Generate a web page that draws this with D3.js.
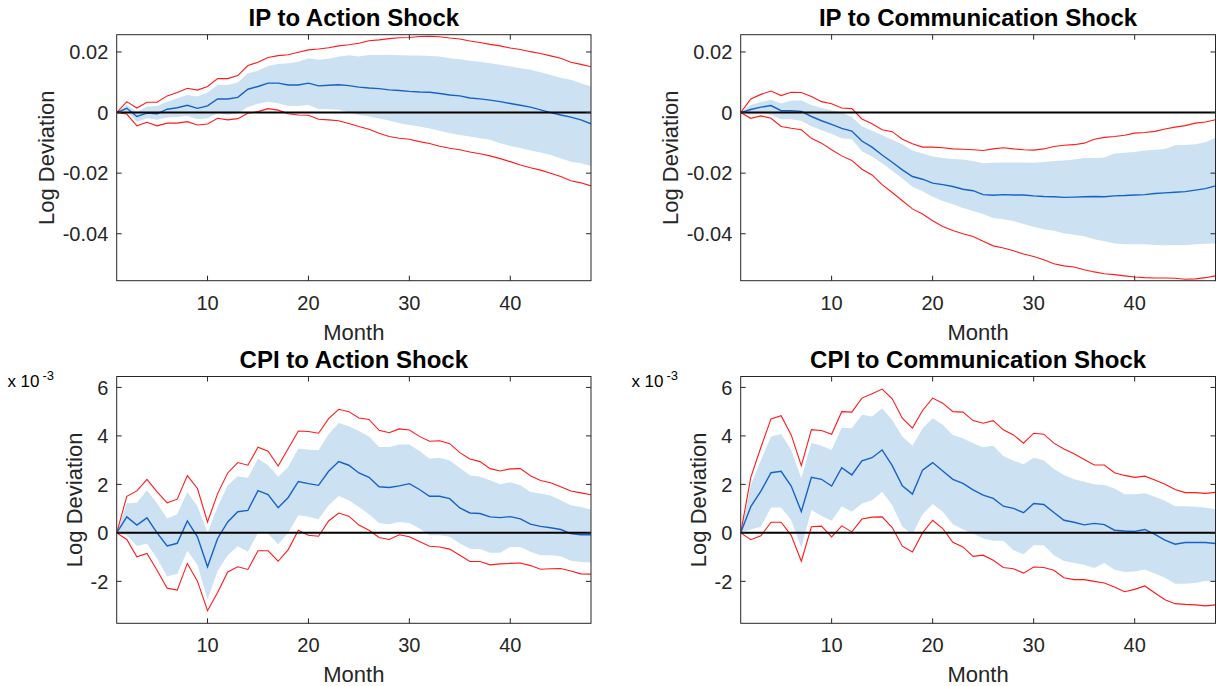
<!DOCTYPE html>
<html>
<head>
<meta charset="utf-8">
<script src="https://cdn.jsdelivr.net/npm/d3@7"></script>
<style>
  html, body { margin: 0; padding: 0; background: #ffffff; }
  svg { display: block; font-family: "Liberation Sans", Arial, Helvetica, sans-serif; }
</style>
</head>
<body>
<svg id="chart" width="1218" height="686"></svg>
<script>
// Impulse responses: median, 68% band (shaded) and 90% band (red lines), months 1..48.
const months = d3.range(1, 49);

// IP response to the action shock (log deviation)
const ipActionMedian = [0,.0014,-.0013,-.0002,-.0004,.0011,.0016,.0024,.0014,.0022,
  .0045,.0045,.005,.0077,.0086,.0097,.0097,.0091,.0091,.0097,
  .0088,.009,.0092,.0089,.0084,.0081,.0079,.0075,.0073,.007,
  .0068,.0067,.0063,.0058,.0055,.0048,.0045,.0041,.0036,.003,
  .0024,.0018,.0009,0,-.0008,-.0015,-.0024,-.0037];
const ipActionUpper90 = [0,.0036,.0015,.0034,.0034,.0055,.0066,.008,.0074,.0086,
  .0112,.0112,.0122,.0155,.0166,.0182,.0188,.0191,.0199,.0207,
  .021,.0214,.022,.0224,.0229,.0237,.024,.0244,.0247,.0248,
  .0251,.0252,.025,.0246,.0243,.0236,.0231,.0225,.022,.0213,
  .0208,.0201,.0195,.0187,.0179,.0166,.0159,.0151];
const ipActionLower90 = [0,-.0005,-.0044,-.0032,-.0044,-.0035,-.0035,-.003,-.0041,-.0038,
  -.0019,-.0024,-.002,-.0002,.0003,.0013,.0008,-.0004,-.0008,-.0009,
  -.0022,-.0024,-.0027,-.0036,-.0046,-.0055,-.0068,-.0079,-.0085,-.0088,
  -.0096,-.0102,-.0111,-.0118,-.0123,-.013,-.0136,-.0143,-.0152,-.0162,
  -.0173,-.0182,-.019,-.02,-.0211,-.0225,-.0232,-.0242];
const ipActionUpper68 = [0,.0025,.0003,.002,.0022,.0036,.0047,.0058,.0053,.0066,
  .0091,.0091,.0099,.013,.0138,.0154,.016,.0163,.0168,.0179,
  .0174,.0178,.0185,.0189,.0185,.019,.019,.019,.0189,.0188,
  .0188,.0187,.0185,.0179,.0176,.0171,.0168,.0163,.0158,.0152,
  .0146,.0141,.0133,.0124,.0115,.0108,.0097,.0086];
const ipActionLower68 = [0,.0003,-.003,-.0019,-.0024,-.0016,-.0015,-.0011,-.0022,-.0019,
  -.0002,-.0008,-.0002,.0018,.0029,.0036,.0031,.0022,.0022,.0025,
  .0012,.0011,.0009,0,-.0008,-.0013,-.002,-.0026,-.0035,-.0041,
  -.0046,-.0053,-.006,-.0068,-.0074,-.0079,-.0085,-.009,-.0101,-.011,
  -.0117,-.0125,-.0132,-.014,-.0151,-.0162,-.0167,-.0176];

// IP response to the communication shock (log deviation)
const ipCommMedian = [0,.001,.0018,.0023,.0006,.0006,.0004,-.0013,-.0027,-.0039,
  -.0052,-.0061,-.0094,-.0114,-.014,-.0164,-.0189,-.0211,-.022,-.0233,
  -.0238,-.0244,-.0253,-.0258,-.0271,-.0273,-.0271,-.0272,-.0272,-.0275,
  -.0277,-.0278,-.028,-.0279,-.0278,-.0277,-.0278,-.0275,-.0274,-.0272,
  -.0271,-.0267,-.0265,-.0263,-.0261,-.0256,-.0251,-.0242];
const ipCommUpper90 = [0,.0045,.006,.0071,.0056,.0067,.0066,.0053,.0036,.0029,
  .0015,.0013,-.0021,-.0037,-.0057,-.0063,-.0088,-.0103,-.0114,-.0114,
  -.0116,-.012,-.0121,-.0123,-.0125,-.012,-.0116,-.012,-.0123,-.0124,
  -.012,-.0112,-.0108,-.0106,-.0101,-.0088,-.0082,-.0079,-.0075,-.0068,
  -.0066,-.0062,-.0054,-.0048,-.0043,-.0035,-.0031,-.0024];
const ipCommLower90 = [0,-.0019,-.0011,-.0019,-.0046,-.0052,-.0057,-.0085,-.0101,-.0123,
  -.0143,-.0158,-.0187,-.0206,-.0238,-.0264,-.0291,-.0318,-.0335,-.0357,
  -.0376,-.0389,-.04,-.0409,-.0425,-.044,-.0447,-.0456,-.0467,-.0475,
  -.0486,-.0499,-.0506,-.051,-.0519,-.0526,-.0532,-.0535,-.0539,-.0543,
  -.0545,-.0546,-.0546,-.0547,-.055,-.0549,-.0545,-.0539];
const ipCommUpper68 = [0,.0025,.0035,.0042,.003,.004,.004,.0025,.0015,.0008,
  0,-.0015,-.0045,-.006,-.0075,-.009,-.0105,-.0125,-.0135,-.0145,
  -.015,-.0153,-.0155,-.016,-.0167,-.0166,-.0165,-.0165,-.0165,-.0166,
  -.0163,-.016,-.0158,-.0155,-.015,-.015,-.0148,-.0135,-.0133,-.013,
  -.0125,-.0123,-.012,-.0108,-.0107,-.0105,-.0098,-.0083];
const ipCommLower68 = [0,-.0007,-.0003,-.0007,-.0022,-.0022,-.0027,-.0045,-.0058,-.007,
  -.0085,-.0088,-.0128,-.0145,-.0167,-.0192,-.0218,-.0245,-.026,-.0278,
  -.0292,-.0303,-.0315,-.0325,-.0335,-.0348,-.0352,-.0358,-.0368,-.0377,
  -.0385,-.039,-.0398,-.0403,-.0408,-.0418,-.0425,-.0432,-.0435,-.0435,
  -.0435,-.0437,-.0438,-.0437,-.0438,-.0435,-.0433,-.0432];

// CPI response to the action shock (log deviation, x 10^-3)
const cpiActionMedian = [0,.66,.32,.62,0,-.54,-.43,.49,-.16,-1.4,
  -.23,.45,.87,.93,1.74,1.58,1.04,1.46,2.12,2.03,
  1.96,2.54,2.94,2.79,2.47,2.29,1.9,1.87,1.94,2.03,
  1.79,1.51,1.51,1.41,1.03,.82,.8,.66,.63,.67,
  .58,.36,.27,.21,.14,-.03,-.08,-.08];
const cpiActionUpper90 = [0,1.51,1.73,2.21,1.69,1.24,1.39,2.36,1.83,.45,
  1.62,2.47,2.9,2.79,3.53,3.37,2.76,3.48,4.2,4.18,
  4.11,4.71,5.1,5.0,4.74,4.68,4.23,4.13,4.29,4.24,
  3.98,3.78,3.8,3.68,3.31,3.05,2.94,2.65,2.55,2.64,
  2.65,2.36,2.16,2.07,1.9,1.73,1.65,1.57];
const cpiActionLower90 = [0,-.27,-.99,-.85,-1.54,-2.28,-2.36,-1.26,-1.99,-3.21,
  -2.46,-1.61,-1.4,-1.51,-.74,-.74,-1.17,-.69,.11,-.1,
  -.14,.49,.82,.69,.32,.11,-.19,-.27,-.08,-.16,
  -.36,-.55,-.58,-.67,-.92,-1.18,-1.18,-1.32,-1.28,-1.26,
  -1.24,-1.35,-1.5,-1.48,-1.47,-1.57,-1.69,-1.7];
const cpiActionUpper68 = [0,1.21,1.24,1.76,1.21,.59,.77,1.69,1.1,0,
  1.07,1.96,2.34,2.27,3.06,2.79,2.31,2.72,3.48,3.43,
  3.41,4.07,4.53,4.4,4.2,3.98,3.54,3.54,3.65,3.65,
  3.38,3.06,3.1,2.99,2.68,2.38,2.31,2.17,2.01,2.09,
  1.96,1.69,1.62,1.54,1.35,1.14,1.07,.96];
const cpiActionLower68 = [0,-.1,-.54,-.44,-1.06,-1.79,-1.7,-.74,-1.33,-2.75,
  -1.57,-.92,-.55,-.78,0,-.03,-.47,0,.73,.66,
  .56,1.14,1.52,1.35,1.07,.77,.41,.36,.45,.41,
  .18,-.1,-.1,-.16,-.44,-.65,-.67,-.82,-.82,-.58,
  -.58,-.78,-.92,-.92,-.96,-1.15,-1.2,-1.22];

// CPI response to the communication shock (log deviation, x 10^-3)
const cpiCommMedian = [0,1.08,1.72,2.48,2.54,1.93,.88,2.29,2.21,1.93,
  2.69,2.39,2.97,3.1,3.42,2.77,1.94,1.6,2.59,2.9,
  2.55,2.21,2.04,1.77,1.56,1.42,1.1,1.01,.83,1.21,
  1.17,.84,.52,.44,.33,.39,.34,.11,.08,.06,
  .14,-.06,-.3,-.47,-.4,-.4,-.4,-.44];
const cpiCommUpper90 = [0,2.29,3.53,4.7,4.83,4.04,2.77,4.26,4.22,4.07,
  5.0,4.98,5.56,5.74,5.93,5.53,4.73,4.32,5.05,5.56,
  5.35,5.0,4.98,4.63,4.52,4.63,4.25,4.04,3.7,4.11,
  4.07,3.7,3.46,3.26,3.03,2.8,2.8,2.48,2.37,2.29,
  2.34,2.18,2.01,1.79,1.66,1.66,1.63,1.67];
const cpiCommLower90 = [0,-.28,-.12,.44,.44,-.1,-1.17,.25,.28,-.17,
  .29,.04,.57,.65,.66,.22,-.55,-.79,0,.52,
  .18,-.39,-.58,-.97,-.92,-1.13,-1.43,-1.48,-1.66,-1.41,
  -1.43,-1.54,-1.85,-1.93,-1.93,-2.0,-2.07,-2.23,-2.43,-2.33,
  -2.19,-2.48,-2.76,-2.92,-2.95,-2.97,-3.01,-2.97];
const cpiCommUpper68 = [0,1.97,3.0,3.97,4.08,3.42,2.25,3.72,3.59,3.42,
  4.34,4.32,4.87,4.8,5.14,4.66,3.97,3.59,4.3,4.73,
  4.46,4.04,3.9,3.7,3.53,3.59,3.17,2.98,2.83,3.1,
  3.0,2.63,2.39,2.21,2.11,2.01,1.97,1.83,1.59,1.59,
  1.63,1.49,1.32,1.1,1.1,1.08,1.05,.97];
const cpiCommLower68 = [0,.14,.25,1.05,1.05,.52,-.61,.94,.7,.5,
  1.1,.87,1.21,1.35,1.7,1.14,.25,-.06,.77,1.19,
  .87,.36,.14,-.03,-.23,-.33,-.33,-.72,-.88,-.51,
  -.51,-.92,-1.16,-1.24,-1.31,-1.45,-1.24,-1.52,-1.61,-1.59,
  -1.52,-1.68,-1.85,-2.1,-2.1,-2.07,-1.99,-2.03];

const titles = ["IP to Action Shock", "IP to Communication Shock",
                "CPI to Action Shock", "CPI to Communication Shock"];
const monthTicks = [10, 20, 30, 40];
const ipTicks = [-0.04, -0.02, 0, 0.02];
const ipTickLabels = ["-0.04", "-0.02", "0", "0.02"];
const cpiTicks = [-2, 0, 2, 4, 6];
const cpiTickLabels = ["-2", "0", "2", "4", "6"];
const xLabel = "Month";
const yLabel = "Log Deviation";

// Panel layout (pixels)
const colX = [[116.7, 591], [740.7, 1215.5]];
const rowY = [[34.7, 280.7], [376.5, 623.3]];
const ipDomain = [-0.0555, 0.0257];
const cpiDomain = [-3.73, 6.45];

const panels = [
  { title: titles[0], col: 0, row: 0, med: ipActionMedian, u90: ipActionUpper90, l90: ipActionLower90, u68: ipActionUpper68, l68: ipActionLower68, dom: ipDomain, ticks: ipTicks, labels: ipTickLabels, exp: false },
  { title: titles[1], col: 1, row: 0, med: ipCommMedian, u90: ipCommUpper90, l90: ipCommLower90, u68: ipCommUpper68, l68: ipCommLower68, dom: ipDomain, ticks: ipTicks, labels: ipTickLabels, exp: false },
  { title: titles[2], col: 0, row: 1, med: cpiActionMedian, u90: cpiActionUpper90, l90: cpiActionLower90, u68: cpiActionUpper68, l68: cpiActionLower68, dom: cpiDomain, ticks: cpiTicks, labels: cpiTickLabels, exp: true },
  { title: titles[3], col: 1, row: 1, med: cpiCommMedian, u90: cpiCommUpper90, l90: cpiCommLower90, u68: cpiCommUpper68, l68: cpiCommLower68, dom: cpiDomain, ticks: cpiTicks, labels: cpiTickLabels, exp: true }
];

const svg = d3.select("#chart");
const axisColor = "#262626";
const tickLen = 5;

panels.forEach((p, i) => {
  const [x0, x1] = colX[p.col];
  const [y0, y1] = rowY[p.row];
  const x = d3.scaleLinear().domain([1, 48]).range([x0, x1]);
  const y = d3.scaleLinear().domain(p.dom).range([y1, y0]);
  const g = svg.append("g");

  const clipId = "clip" + i;
  svg.append("clipPath").attr("id", clipId)
    .append("rect").attr("x", x0).attr("y", y0).attr("width", x1 - x0).attr("height", y1 - y0);

  const plot = g.append("g").attr("clip-path", `url(#${clipId})`);

  // shaded 68% band
  const area = d3.area()
    .x((d, k) => x(months[k]))
    .y0((d, k) => y(p.l68[k]))
    .y1((d, k) => y(p.u68[k]));
  plot.append("path").datum(p.u68).attr("d", area)
    .attr("fill", "rgb(204,225,241)").attr("stroke", "none");

  const line = arr => d3.line().x((d, k) => x(months[k])).y(d => y(d))(arr);

  // 90% bounds
  [p.u90, p.l90].forEach(arr => {
    plot.append("path").attr("d", line(arr))
      .attr("fill", "none").attr("stroke", "#ff1a1a").attr("stroke-width", 1.1);
  });

  // median response
  plot.append("path").attr("d", line(p.med))
    .attr("fill", "none").attr("stroke", "#1563c9").attr("stroke-width", 1.4);

  // zero line
  plot.append("line")
    .attr("x1", x0).attr("x2", x1).attr("y1", y(0)).attr("y2", y(0))
    .attr("stroke", "#000").attr("stroke-width", 2);

  // box
  g.append("rect").attr("x", x0).attr("y", y0).attr("width", x1 - x0).attr("height", y1 - y0)
    .attr("fill", "none").attr("stroke", axisColor).attr("stroke-width", 1);

  // x ticks (inward, mirrored on top)
  monthTicks.forEach(t => {
    const tx = x(t);
    g.append("line").attr("x1", tx).attr("x2", tx).attr("y1", y1).attr("y2", y1 - tickLen)
      .attr("stroke", axisColor);
    g.append("line").attr("x1", tx).attr("x2", tx).attr("y1", y0).attr("y2", y0 + tickLen)
      .attr("stroke", axisColor);
    g.append("text").attr("x", tx).attr("y", y1 + 29)
      .attr("text-anchor", "middle").attr("font-size", 20).attr("fill", axisColor)
      .text(t);
  });

  // y ticks
  const yLabelNodes = [];
  p.ticks.forEach((t, k) => {
    const ty = y(t);
    g.append("line").attr("x1", x0).attr("x2", x0 + tickLen).attr("y1", ty).attr("y2", ty)
      .attr("stroke", axisColor);
    g.append("line").attr("x1", x1).attr("x2", x1 - tickLen).attr("y1", ty).attr("y2", ty)
      .attr("stroke", axisColor);
    const lbl = g.append("text").attr("x", x0 - 8.4).attr("y", ty + 7.2)
      .attr("text-anchor", "end").attr("font-size", 20).attr("fill", axisColor)
      .text(p.labels[k]);
    yLabelNodes.push(lbl.node());
  });

  const minX = d3.min(yLabelNodes, n => n.getBBox().x);
  const cy = (y0 + y1) / 2;
  g.append("text")
    .attr("transform", `translate(${minX - 9},${cy}) rotate(-90)`)
    .attr("text-anchor", "middle").attr("font-size", 22).attr("fill", axisColor)
    .text(yLabel);

  g.append("text").attr("x", (x0 + x1) / 2).attr("y", y1 + 58.8)
    .attr("text-anchor", "middle").attr("font-size", 22).attr("fill", axisColor)
    .text(xLabel);

  g.append("text").attr("x", (x0 + x1) / 2).attr("y", y0 - 8.7)
    .attr("text-anchor", "middle").attr("font-size", 24).attr("font-weight", "bold")
    .attr("fill", "#000").text(p.title);

  if (p.exp) {
    const e = g.append("text").attr("x", x0 - 109.3).attr("y", y0 + 10.2)
      .attr("font-size", 17).attr("fill", "#000");
    e.append("tspan").text("x 10");
    e.append("tspan").attr("dx", 3).attr("dy", -7).attr("font-size", 13).text("-3");
  }
});
</script>
</body>
</html>
